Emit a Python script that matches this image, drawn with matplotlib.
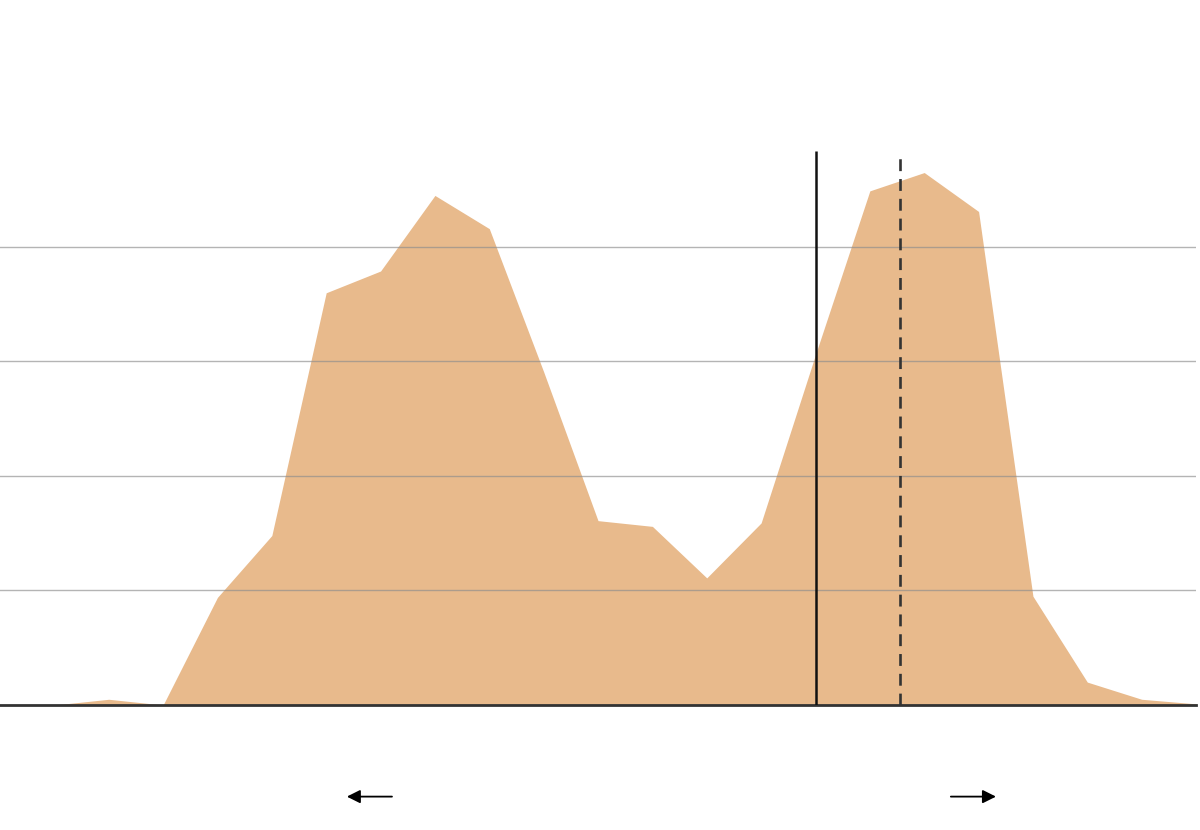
import numpy as np
import matplotlib.pyplot as plt

# ---------------- data ----------------
bins = list(range(23))
values = [0.0, 0.0, 0.05, 0.0, 0.94, 1.48, 3.60, 3.79, 4.45, 4.16, 2.91, 1.61,
          1.56, 1.11, 1.59, 3.06, 4.49, 4.65, 4.31, 0.95, 0.20, 0.05, 0.01]
grid_levels = [1, 2, 3, 4]
solid_marker = 15.01
dashed_marker = 16.56
marker_top = 4.84
left_arrow = (7.21, 6.38)
right_arrow = (17.49, 18.32)
arrow_y = -0.80

fill_color = '#E8BA8C'

# ---------------- figure ----------------
fig = plt.figure(figsize=(12, 8.3), dpi=100)
ax = fig.add_axes([0, 0.1506, 0.9967, 0.6898])
ax.set_xlim(0, 22)
ax.set_ylim(0, 5)
ax.axis('off')

ax.fill_between(bins, values, 0, color=fill_color, linewidth=0, zorder=1)

for g in grid_levels:
    ax.axhline(g, color='#8c8c8c', linewidth=1, alpha=0.65, zorder=2)

ax.axhline(0, color='#333333', linewidth=2, zorder=3, clip_on=False)

ax.plot([solid_marker, solid_marker], [0, marker_top], color='#111111',
        linewidth=1.8, zorder=4, solid_capstyle='butt')
ax.plot([dashed_marker, dashed_marker], [0, marker_top - 0.02], color='#333333',
        linewidth=1.9, linestyle=(0, (4.5, 3.0)), zorder=4)

for start, end in [left_arrow, right_arrow]:
    ax.annotate('', xy=(end, arrow_y), xytext=(start, arrow_y),
                xycoords='data', annotation_clip=False,
                arrowprops=dict(arrowstyle='-|>', color='black', lw=1.3,
                                mutation_scale=20, shrinkA=0, shrinkB=0))

fig.savefig('out.png', dpi=100, facecolor='white')
